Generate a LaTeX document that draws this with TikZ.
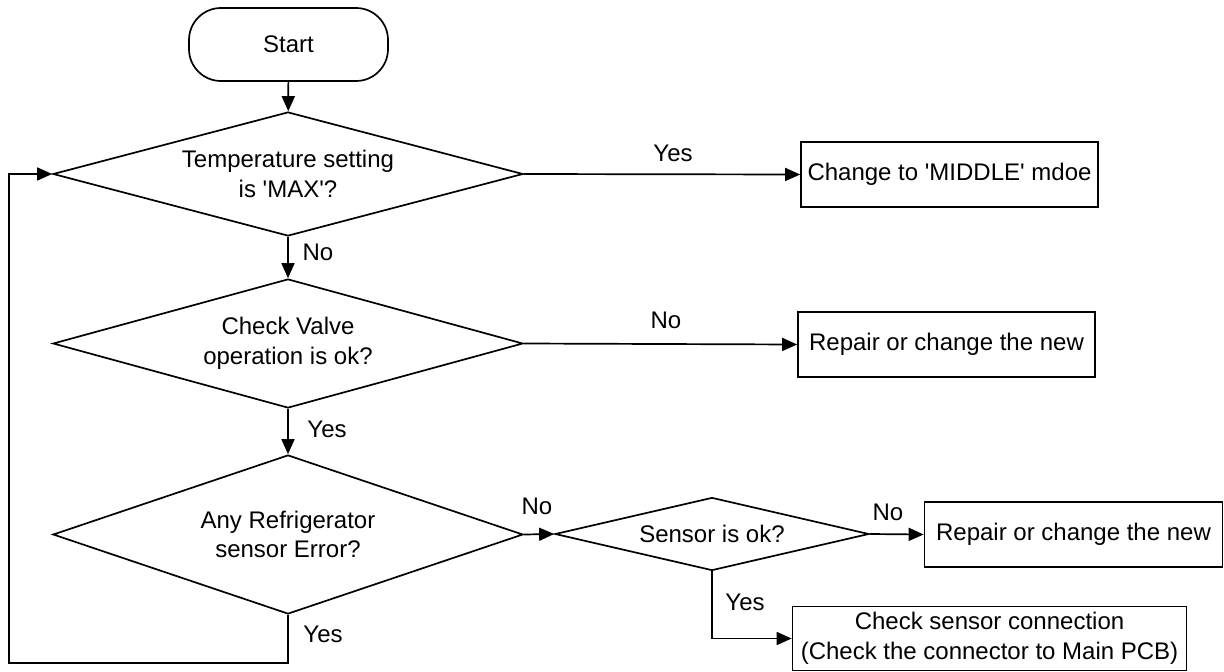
\documentclass[tikz,border=0pt]{standalone}
\usepackage{fontspec}
\setmainfont{Liberation Sans}[Ligatures=TeXOff]
\usetikzlibrary{shapes.geometric,arrows.meta}
\begin{document}
\begin{tikzpicture}[x=1pt, y=-1pt, line width=1.7pt,
    font=\fontsize{24}{29.5}\selectfont,
    flow/.style={-{Triangle[length=15pt,width=13pt]}},
    decision/.style={draw, diamond, aspect=4, inner sep=0pt, align=center},
    action/.style={draw, rectangle, inner sep=0pt, align=center, minimum width=297pt, minimum height=65pt},
    terminal/.style={draw, rectangle, rounded corners=32pt, minimum width=199pt, minimum height=73pt},
    lbl/.style={inner sep=0pt}]
  \useasboundingbox (0,0) rectangle (1224,672);
  \node[terminal] (start) at (288.5,44.5) {Start};
  \node[decision, minimum width=470pt, minimum height=124pt] (temp) at (288,174) {Temperature setting\\is 'MAX'?};
  \node[decision, minimum width=470pt, minimum height=129pt] (valve) at (288,343.5) {Check Valve\\operation is ok?};
  \node[decision, minimum width=470pt, minimum height=159pt] (refr) at (288,534.5) {Any Refrigerator\\sensor Error?};
  \node[decision, minimum width=314pt, minimum height=73pt] (sensor) at (712,534) {Sensor is ok?};
  \node[action] (middle) at (949.5,174.5) {Change to 'MIDDLE' mdoe};
  \node[action] (repairA) at (946.5,344.5) {Repair or change the new};
  \node[action, minimum width=298pt] (repairB) at (1073.5,534.5) {Repair or change the new};
  \node[action, minimum width=394pt, minimum height=64pt] (conn) at (989.5,638.5) {Check sensor connection\\(Check the connector to Main PCB)};
  \coordinate (back) at (9,663);
  \draw[flow] (start) -- (temp);
  \draw[flow] (temp.east) -- (middle.west);
  \draw[flow] (temp.south) -- (valve.north);
  \draw[flow] (valve.east) -- (repairA.west);
  \draw[flow] (valve.south) -- (refr.north);
  \draw[flow] (refr.east) -- (sensor.west);
  \draw[flow] (sensor.east) -- (repairB.west);
  \draw[flow] (sensor.south) |- (conn.west);
  \draw[flow] (refr.south) |- (back) |- (temp.west);
  \node[lbl] (yesA) at (673,153) {Yes};
  \node[lbl] (noA) at (318,252) {No};
  \node[lbl] (noB) at (666,320) {No};
  \node[lbl] (yesB) at (327,429) {Yes};
  \node[lbl] (noC) at (537,506) {No};
  \node[lbl] (noD) at (888,512) {No};
  \node[lbl] (yesC) at (745,602) {Yes};
  \node[lbl] (yesD) at (323,634) {Yes};
\end{tikzpicture}
\end{document}
